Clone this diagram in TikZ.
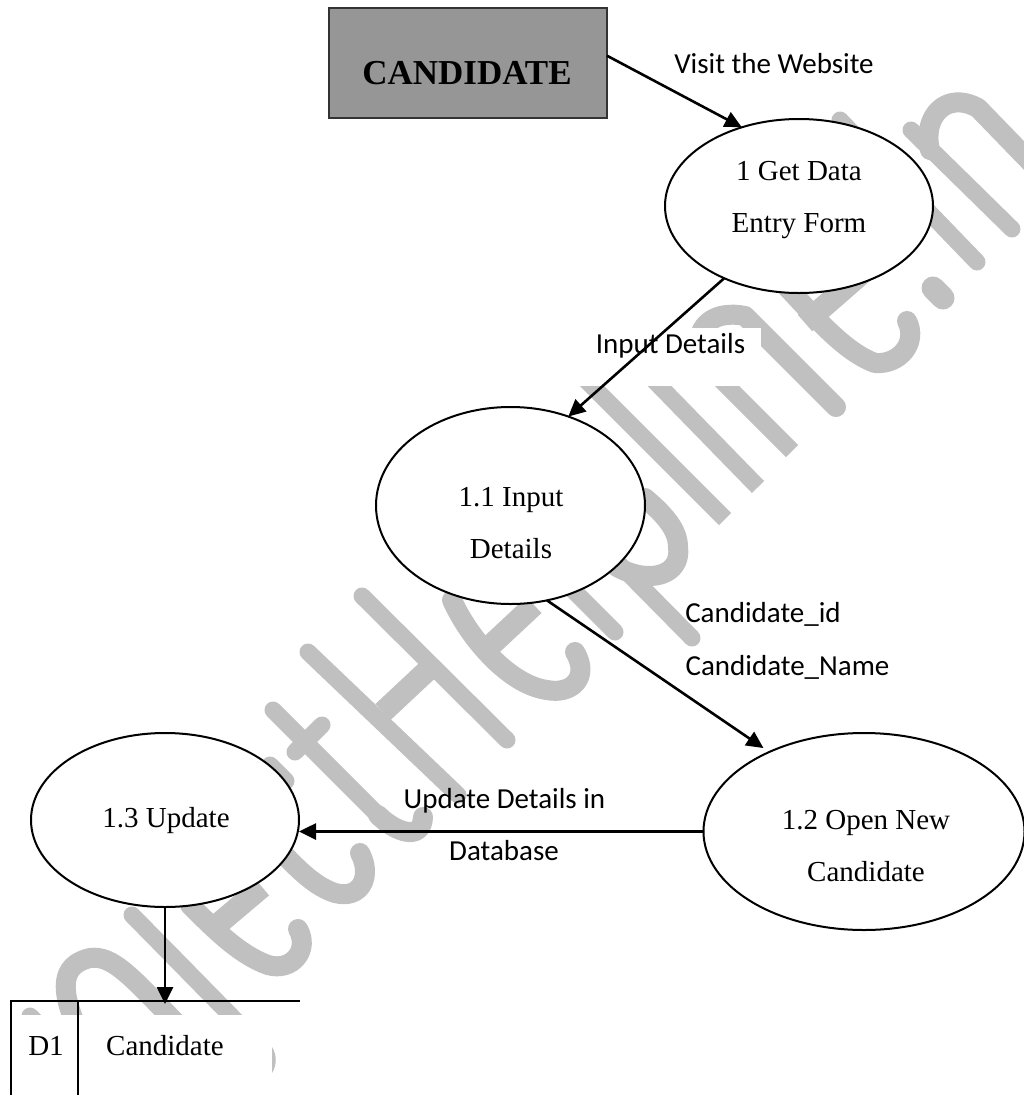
\documentclass[tikz,border=0pt]{standalone}
\usepackage{fontspec}
\setmainfont{Liberation Serif}
\newfontfamily\lblfont{Carlito}
\usetikzlibrary{arrows.meta,shapes.geometric}
\definecolor{wm}{HTML}{C0C0C0}
\definecolor{boxgray}{HTML}{969696}
\tikzset{
  stem/.style={draw=wm,line width=17pt,line cap=round,line join=round},
  curve/.style={draw=wm,line width=20pt,line cap=round,line join=round},
  bar/.style={draw=wm,line width=22pt,line cap=butt},
  proc/.style={ellipse,draw=black,fill=white,line width=2pt,inner sep=0pt,outer sep=0pt},
  serif/.style={inner sep=0pt,outer sep=0pt,align=center,font=\fontsize{29}{52}\selectfont},
  flowlbl/.style={inner sep=0pt,outer sep=0pt,anchor=base,font=\lblfont\fontsize{29}{52}\selectfont},
  flow/.style={draw=black,line width=2.6pt,-{Triangle[length=17pt,width=16pt]}},
  storeline/.style={draw=black,line width=1.8pt}
}
\begin{document}
\begin{tikzpicture}[x=1pt,y=-1pt]
\useasboundingbox (0,0) rectangle (1024,1095);
\fill[white] (0,0) rectangle (1024,1095);
% watermark
\draw[curve] (930,150) .. controls (922,118) and (945,90) .. (978,108) -- (1040,172);
\draw[stem] (911,130) -- (1012,229);
\draw[stem,line width=23pt] (933,288) -- (943,298);
\draw[stem] (840,120) -- (977,262);
\draw[curve] (907,321) .. controls (918,342) and (900,365) .. (875,363) .. controls (840,350) and (810,310) .. (775,275);
\draw[bar] (805,323) -- (868,268);
\draw[curve] (700,350) .. controls (695,325) and (715,310) .. (745,316) -- (836,407);
\draw[stem,line cap=butt] (570,364) -- (725,519);
\draw[stem,line cap=butt] (640,366) -- (758,487);
\draw[stem,line cap=butt] (705,364) -- (792,451);
\draw[curve] (645,498) .. controls (665,515) and (678,530) .. (678,547) .. controls (682,575) and (650,585) .. (617,567);
\draw[stem] (620,565) -- (692,638);
\draw[stem] (540,557) -- (615,632);
\draw[curve] (575,652) .. controls (590,677) and (572,695) .. (547,690) .. controls (510,685) and (470,640) .. (452,600);
\draw[bar] (489,647) -- (534,605);
\draw[stem] (362,596) -- (507,740);
\draw[stem] (308,652) -- (458,795);
\draw[bar] (383,712) -- (430,668);
\draw[stem] (273,710) -- (378,815);
\draw[curve] (378,815) .. controls (395,832) and (422,842) .. (423,817);
\draw[bar,line cap=round,line width=17pt] (295,752) -- (322,725);
\draw[stem] (270,765) -- (286,781);
\draw[curve] (360,853) .. controls (372,875) and (362,900) .. (335,893) .. controls (310,885) and (290,860) .. (270,840);
\draw[bar] (217,925) -- (262,887);
\draw[curve] (298,929) .. controls (310,950) and (292,972) .. (268,965) .. controls (240,955) and (215,930) .. (190,905);
\draw[stem] (132,915) -- (245,1030);
\draw[curve,line cap=butt] (78,1030) .. controls (60,990) and (60,965) .. (90,958) .. controls (112,955) and (130,975) .. (178,1025);
\draw[stem] (30,1016) -- (50,1036);
% masks behind labels
\fill[white] (560,328) rectangle (761,386);
\fill[white] (12,1015) rectangle (272,1095);
\fill[wm] (272,1047) .. controls (277,1055) and (277,1065) .. (272,1073) -- cycle;
% shapes
\node[draw=black!80,fill=boxgray,line width=2.5pt,inner sep=0pt,outer sep=0pt,minimum width=278pt,minimum height=110pt] (cand) at (468,63) {};
\node[inner sep=0pt,anchor=base,font=\bfseries\fontsize{35}{40}\selectfont] (candtxt) at (467,84) {CANDIDATE};
\node[proc,minimum width=268pt,minimum height=174pt] (e1) at (799,206) {};
\node[proc,minimum width=269pt,minimum height=197pt] (e11) at (510.5,505.5) {};
\node[proc,minimum width=321pt,minimum height=197pt] (e12) at (864,831.5) {};
\node[proc,minimum width=268pt,minimum height=174pt] (e13) at (165,820) {};
\node[serif] (e1txt) at (799,200) {1 Get Data\\Entry Form};
\node[serif] (e11txt) at (511,523.5) {1.1 Input\\Details};
\node[serif] (e12txt) at (866,846) {1.2 Open New\\Candidate};
\node[serif,anchor=base] (e13txt) at (166,827) {1.3 Update};
% data store
\node[inner sep=0pt,outer sep=0pt,minimum width=289pt,minimum height=94pt] (store) at (155.5,1048) {};
\coordinate (div) at (78,1001);
\draw[storeline] (store.north east) -- (store.north west) -- (store.south west);
\draw[storeline] (div) -- (div |- store.south);
\node[serif,anchor=base] (d1) at (46,1055) {D1};
\node[serif,anchor=base] (storetxt) at (165,1055) {Candidate};
% flows
\draw[flow] (cand.3.7) -- (e1.126.9);
\draw[flow] (e1.224.2) -- (e11.57.6);
\draw[flow,shorten >=7pt] (e11.291.4) -- (e12.140.5);
\draw[flow] (e12.west) -- (e13.east |- e12.west);
\draw[flow,shorten >=-3pt] (e13.south) -- (e13.south |- store.north);
% labels
\node[flowlbl] (l1) at (774,73) {Visit the Website};
\node[flowlbl] (l2) at (670.5,353) {Input Details};
\node[flowlbl] (l3) at (763,622) {Candidate\_id};
\node[flowlbl] (l4) at (787.5,675) {Candidate\_Name};
\node[flowlbl] (l5) at (504.5,808) {Update Details in};
\node[flowlbl] (l6) at (504,860) {Database};
\end{tikzpicture}
\end{document}
